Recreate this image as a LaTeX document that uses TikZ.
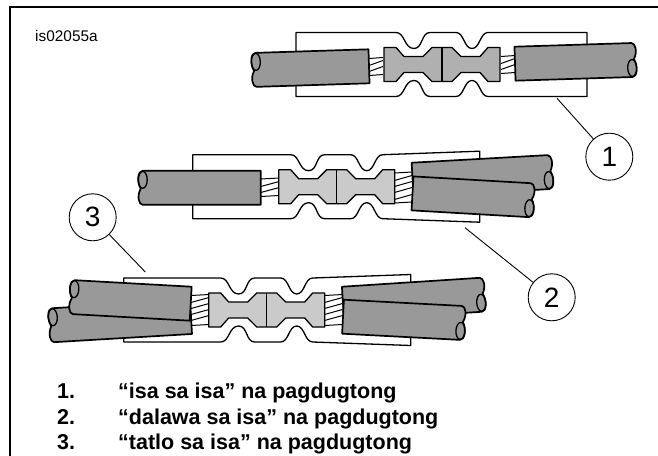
\documentclass[tikz,border=0pt]{standalone}
\usepackage{fontspec}
\setmainfont{Liberation Sans}
\definecolor{cablegray}{HTML}{999999}
\definecolor{darkmetal}{HTML}{B0B0B0}
\definecolor{lightmetal}{HTML}{CACACA}
\tikzset{
  outline/.style={draw=black,line width=1.3pt,line join=round},
  thickline/.style={draw=black,line width=1.7pt,line join=round},
  leader/.style={draw=black,line width=0.9pt},
  callout/.style={circle,draw=black,line width=0.9pt,minimum size=47pt,inner sep=0pt,font=\fontsize{28}{28}\selectfont},
  listtext/.style={anchor=base west,inner sep=0pt,font=\fontsize{21.5}{21.5}\selectfont\bfseries}
}
% #1 cx, #2 cy, #3 left, #4 right, #5 half height at right end
\newcommand{\sleeve}[5]{%
  \draw[outline,fill=white,shift={(#1,#2)}]
    (#3,-32) -- (-46,-32) .. controls (-37,-32) and (-38,-16) .. (-28,-16)
    .. controls (-19,-16) and (-21,-32) .. (-12,-32) -- (14,-32)
    .. controls (22,-32) and (22,-16) .. (30,-16)
    .. controls (38,-16) and (38,-32) .. (46,-32) -- (#4,-#5) -- (#4,#5)
    -- (46,32) .. controls (38,32) and (38,16) .. (30,16)
    .. controls (22,16) and (22,32) .. (14,32) -- (-12,32)
    .. controls (-21,32) and (-19,16) .. (-28,16)
    .. controls (-38,16) and (-37,32) .. (-46,32) -- (#3,32) -- cycle;}
% #1 cx, #2 cy, #3 colour
\newcommand{\crimp}[3]{%
  \draw[outline,fill=#3,shift={(#1,#2)}]
    (-58,-17) -- (-46,-17) -- (-38,-8) -- (-19,-8) -- (-10,-17) -- (10,-17)
    -- (19,-8) -- (38,-8) -- (46,-17) -- (58,-17) -- (58,17) -- (46,17)
    -- (38,8) -- (19,8) -- (10,17) -- (-10,17) -- (-19,8) -- (-38,8)
    -- (-46,17) -- (-58,17) -- cycle;
  \draw[outline,shift={(#1,#2)}] (0,-17) -- (0,17);}
% #1 x, #2 y (flat end centre), #3 angle, #4 length
\newcommand{\cable}[4]{%
  \begin{scope}[shift={(#1,#2)},rotate=#3]
    \draw[thickline,fill=cablegray] (0,-17) -- (#4-3,-17)
      .. controls (#4+1,-17) and (#4+3,-8) .. (#4-1,-1)
      .. controls (#4+3,6) and (#4+2,17) .. (#4-3,17) -- (0,17) -- cycle;
    \draw[outline] (#4-3,8) ellipse [x radius=4.5,y radius=8.5];
  \end{scope}}
% #1 x1, #2 x2, #3 top y, #4 bottom y, #5 strand step
\newcommand{\strands}[5]{%
  \fill[white] (#1,#3) rectangle (#2,#4);
  \draw[line width=1pt] (#1,#3) -- (#2,#3-1) (#1,#4) -- (#2,#4-1);
  \foreach \yy in {#5}{\draw[line width=1pt] (#1,\yy+2.5) -- (#2,\yy-2.5);}}
\begin{document}
\begin{tikzpicture}[x=1pt,y=-1pt]
\useasboundingbox (0,0) rectangle (658,455);
\fill[white] (0,0) rectangle (658,455);
% frame
\draw[line width=1.2pt] (10,456) -- (10,7) -- (658,7);
\node[anchor=base west,inner sep=0pt,font=\fontsize{15.4}{15.4}\selectfont] (code) at (35,41.5) {is02055a};
% --- assembly 1
\sleeve{442}{64.5}{-146}{145}{32}
\strands{369}{383}{58.5}{75.5}{63,69}
\strands{501}{515}{56.5}{73.5}{61,67}
\crimp{442}{64.5}{darkmetal}
\cable{369}{66.3}{181.8}{116}
\cable{515}{63.7}{1.8}{120}
% --- assembly 2
\sleeve{336.7}{186.7}{-144}{143}{35.5}
\strands{260.7}{279.3}{179}{196.5}{184,190}
\strands{394.5}{412}{173}{203}{178,184,190,197}
\crimp{336.7}{186.7}{lightmetal}
\cable{260.7}{187.8}{180}{121}
\cable{412.6}{179.7}{3.2}{139}
\cable{412.5}{193.4}{-3.3}{120.5}
% --- assembly 3
\sleeve{266.7}{310}{-143}{144}{35.5}
\strands{191}{209}{295.5}{325.5}{300,306,312,318}
\strands{324.5}{342.5}{295.5}{325.5}{300,306,312,318}
\crimp{266.7}{310}{lightmetal}
\cable{191}{317}{183.4}{141}
\cable{190.7}{303.7}{176.8}{120}
\cable{343}{303.7}{3.7}{141}
\cable{343}{316.7}{-3}{121}
% callouts
\node[callout] (c1) at (609.3,156.7) {1};
\node[callout] (c2) at (551.7,297.3) {2};
\node[callout] (c3) at (92.7,217.3) {3};
\coordinate (a1) at (557,98.3);
\coordinate (a2) at (465,227.7);
\coordinate (a3) at (145.3,272);
\draw[leader] (c1) -- (a1);
\draw[leader] (c2) -- (a2);
\draw[leader] (c3) -- (a3);
% list
\node[listtext] (n1) at (57,398) {1.};
\node[listtext] (t1) at (118,398) {“isa sa isa” na pagdugtong};
\node[listtext] (n2) at (57,424) {2.};
\node[listtext] (t2) at (118,424) {“dalawa sa isa” na pagdugtong};
\node[listtext] (n3) at (57,449.5) {3.};
\node[listtext] (t3) at (118,449.5) {“tatlo sa isa” na pagdugtong};
\end{tikzpicture}
\end{document}
